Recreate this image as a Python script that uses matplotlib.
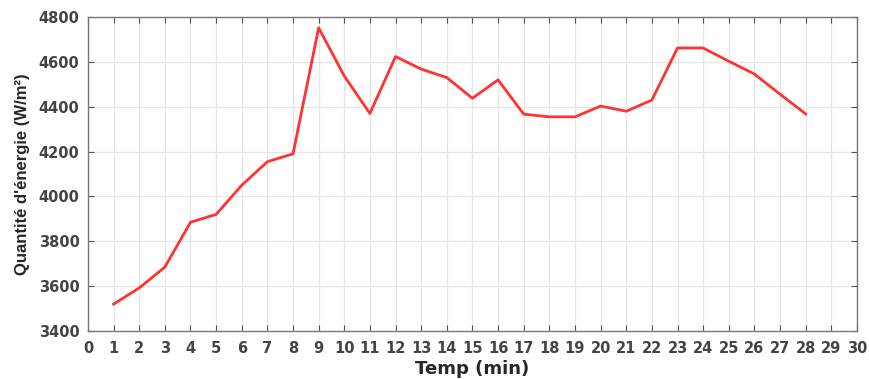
import numpy as np
import matplotlib.pyplot as plt

plt.rcParams['font.family'] = ['DejaVu Sans']

temps = np.arange(1, 29)
energie = [3520, 3592, 3685, 3885, 3920, 4050, 4155, 4190, 4752, 4537,
           4370, 4624, 4568, 4530, 4438, 4520, 4367, 4355, 4355, 4403,
           4380, 4430, 4662, 4662, 4603, 4546, 4456, 4368]

fig = plt.figure(figsize=(8.7, 3.79), dpi=100)
ax = fig.add_axes([0.1011, 0.1266, 0.8839, 0.8284])

ax.plot(temps, energie, color='#ff3333', lw=2.0)

ax.set_xlim(0, 30)
ax.set_ylim(3400, 4800)
ax.set_xticks(np.arange(0, 31))
ax.set_yticks(np.arange(3400, 4801, 200))
ax.grid(True, color='#e6e6e6', lw=0.9)
ax.set_axisbelow(True)

ax.tick_params(direction='in', top=True, right=True, length=4, width=0.8,
               color='#555555', labelsize=10.5, labelcolor='#444444')
ax.tick_params(axis='x', pad=7)
ax.tick_params(axis='y', pad=6)
for lab in ax.get_xticklabels() + ax.get_yticklabels():
    lab.set_fontweight('bold')
for sp in ax.spines.values():
    sp.set_color('#777777')
    sp.set_linewidth(1.0)

ax.set_xlabel('Temp (min)', fontsize=13, fontweight='bold', color='#262626', labelpad=3)
ax.set_ylabel("Quantité d'énergie (W/m²)", fontsize=12, fontweight='bold', color='#262626',
              labelpad=6, family='Liberation Sans')

fig.savefig('out.png', dpi=100)
